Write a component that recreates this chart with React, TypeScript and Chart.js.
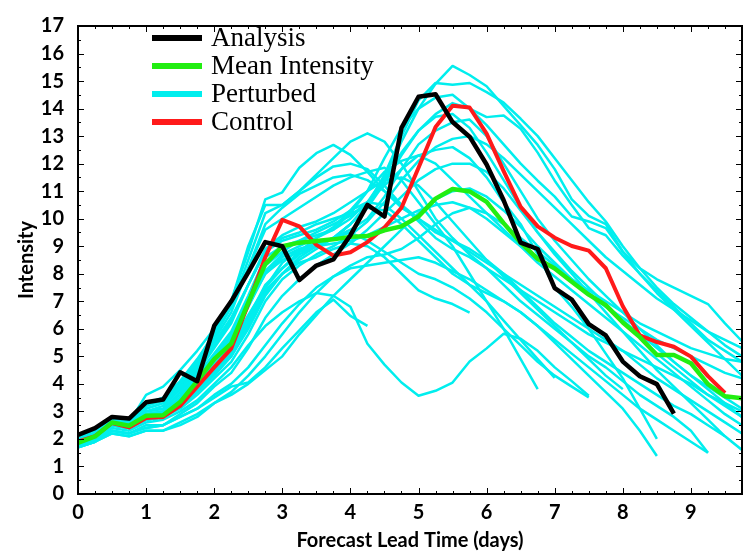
import React, { useEffect, useRef } from "react";
import { Chart, registerables } from "chart.js";

Chart.register(...registerables);

const leadDays = [0, 0.25, 0.5, 0.75, 1, 1.25, 1.5, 1.75, 2, 2.25, 2.5, 2.75, 3, 3.25, 3.5, 3.75, 4, 4.25, 4.5, 4.75, 5, 5.25, 5.5, 5.75, 6, 6.25, 6.5, 6.75, 7, 7.25, 7.5, 7.75, 8, 8.25, 8.5, 8.75, 9, 9.25, 9.5, 9.75];
const xTickValues = [0, 1, 2, 3, 4, 5, 6, 7, 8, 9];
const yTickValues = [0, 1, 2, 3, 4, 5, 6, 7, 8, 9, 10, 11, 12, 13, 14, 15, 16, 17];

const seriesNames = ["Analysis", "Mean Intensity", "Perturbed", "Control"];

const analysis = [2.15, 2.39, 2.8, 2.74, 3.33, 3.43, 4.42, 4.1, 6.11, 7.0, 8.05, 9.15, 9.0, 7.77, 8.3, 8.52, 9.4, 10.5, 10.08, 13.3, 14.43, 14.52, 13.51, 12.98, 11.97, 10.67, 9.13, 8.9, 7.48, 7.06, 6.17, 5.76, 4.81, 4.28, 3.99, 2.92];
const meanIntensity = [1.86, 2.09, 2.6, 2.48, 2.84, 2.86, 3.34, 4.1, 4.9, 5.46, 6.95, 8.35, 9.0, 9.13, 9.19, 9.25, 9.34, 9.37, 9.58, 9.72, 10.08, 10.73, 11.08, 10.99, 10.61, 9.84, 9.13, 8.54, 8.19, 7.71, 7.24, 6.86, 6.23, 5.7, 5.05, 5.05, 4.75, 3.99, 3.55, 3.48];
const control = [1.9, 2.1, 2.58, 2.42, 2.76, 2.8, 3.2, 3.9, 4.6, 5.28, 6.9, 8.6, 9.96, 9.72, 9.05, 8.66, 8.78, 9.15, 9.68, 10.4, 11.85, 13.33, 14.1, 14.04, 13.09, 11.73, 10.43, 9.72, 9.31, 9.01, 8.84, 8.2, 6.82, 5.76, 5.52, 5.35, 4.99, 4.28, 3.67];

const member01 = [1.9, 2.2, 2.7, 2.6, 3.6, 3.9, 4.5, 5.2, 6.0, 7.0, 8.8, 10.7, 10.96, 11.85, 12.38, 12.68, 12.32, 11.7, 11.0, 10.4, 10.0, 9.6, 9.2, 8.8, 8.4, 8.0, 7.6, 7.2, 6.8, 6.4, 6.0, 5.6, 5.2, 4.7, 4.2, 3.8, 3.4, 3.0, 2.6, 2.2];
const member02 = [2.0, 2.3, 2.8, 2.7, 3.2, 3.4, 4.0, 4.8, 5.9, 7.0, 9.0, 10.5, 10.5, 11.0, 11.6, 12.2, 12.8, 13.1, 12.8, 12.0, 11.0, 10.0, 9.3, 8.7, 8.2, 7.6, 7.0, 6.5, 6.0, 5.5, 5.0, 4.6, 4.1, 3.6, 3.2, 2.8, 2.3, 1.5];
const member03 = [1.9, 2.1, 2.6, 2.5, 2.9, 3.0, 3.4, 4.0, 4.7, 5.4, 6.5, 7.5, 8.2, 8.8, 9.3, 9.6, 10.0, 10.6, 11.5, 12.8, 14.0, 14.9, 15.55, 15.22, 14.81, 14.1, 13.39, 12.68, 11.8, 10.7, 10.1, 9.8, 8.8, 8.2, 7.8, 7.5, 7.2, 6.9, 6.2, 5.55];
const member04 = [1.8, 2.0, 2.5, 2.4, 2.7, 2.8, 3.2, 3.8, 4.4, 5.0, 6.0, 7.2, 8.0, 8.5, 8.9, 9.3, 9.8, 10.5, 11.6, 13.0, 14.3, 14.93, 14.87, 14.93, 14.6, 14.22, 13.63, 13.0, 12.2, 11.4, 10.6, 9.9, 9.0, 8.2, 7.5, 6.9, 6.4, 5.9, 5.4, 5.0];
const member05 = [2.0, 2.2, 2.7, 2.5, 2.9, 3.0, 3.5, 4.2, 5.0, 5.8, 7.1, 8.3, 8.8, 9.2, 9.4, 9.6, 10.2, 11.0, 12.2, 13.3, 14.0, 14.4, 14.5, 14.0, 13.69, 13.75, 13.27, 12.4, 11.38, 10.5, 9.66, 9.4, 8.66, 8.0, 7.4, 6.8, 6.2, 5.6, 5.2, 4.8];
const member06 = [1.8, 2.1, 2.6, 2.4, 2.8, 2.9, 3.3, 3.9, 4.6, 5.2, 6.3, 7.5, 8.4, 8.9, 9.1, 9.3, 9.6, 10.0, 10.8, 11.8, 12.7, 13.2, 13.5, 13.6, 13.0, 12.0, 11.0, 10.0, 9.2, 8.5, 7.8, 7.2, 6.6, 6.0, 5.4, 4.8, 4.3, 3.8, 3.3, 2.8];
const member07 = [1.9, 2.2, 2.7, 2.6, 3.0, 3.1, 3.6, 4.3, 5.1, 5.9, 7.2, 8.6, 9.0, 9.2, 9.5, 9.8, 10.1, 10.6, 11.2, 11.8, 12.3, 12.5, 12.6, 12.2, 11.5, 10.6, 9.8, 8.7, 7.5, 6.8, 6.0, 5.1, 4.2, 3.1, 2.0];
const member08 = [2.0, 2.3, 2.8, 2.7, 3.3, 3.5, 4.1, 4.9, 5.8, 6.8, 8.2, 9.6, 10.0, 10.4, 10.8, 11.2, 11.5, 11.7, 11.85, 11.4, 10.6, 9.8, 9.0, 8.0, 7.0, 6.0, 4.9, 3.81];
const member09 = [1.8, 2.0, 2.4, 2.3, 2.6, 2.7, 3.0, 3.4, 4.0, 4.6, 5.4, 6.1, 6.6, 7.0, 7.3, 7.2, 6.8, 5.46, 4.7, 4.05, 3.57, 3.75, 4.05, 4.81, 5.29, 5.82, 5.64, 5.2, 4.6, 4.1, 3.57];
const member10 = [1.7, 1.9, 2.3, 2.2, 2.4, 2.5, 2.8, 3.1, 3.5, 3.9, 4.05, 4.6, 5.3, 5.94, 6.6, 7.06, 6.47, 6.11];
const member11 = [1.7, 1.9, 2.2, 2.1, 2.3, 2.3, 2.6, 2.9, 3.3, 3.6, 4.0, 4.5, 5.0, 5.8, 6.5, 7.2, 7.8, 8.4, 9.0, 9.6, 10.2, 10.7, 11.0, 11.1, 10.8, 10.3, 9.7, 9.0, 8.4, 7.8, 7.3, 6.8, 6.4, 6.0, 5.6, 5.3, 5.0, 4.7, 4.4, 4.2];
const member12 = [2.0, 2.3, 2.7, 2.6, 3.0, 3.1, 3.7, 4.4, 5.3, 6.2, 7.6, 8.8, 9.3, 9.5, 9.8, 10.0, 10.2, 10.4, 10.3, 9.8, 9.2, 8.6, 8.0, 7.6, 7.3, 7.0, 6.6, 6.1, 5.5, 4.9, 4.3, 3.7, 3.1, 2.3, 1.38];
const member13 = [1.9, 2.2, 2.7, 2.6, 3.0, 3.2, 3.8, 4.6, 5.6, 6.6, 8.2, 9.8, 10.4, 10.9, 11.2, 11.5, 11.6, 11.4, 11.0, 10.5, 10.0, 9.5, 9.2, 8.9, 8.5, 8.0, 7.4, 6.8, 6.2, 5.7, 5.2, 4.8, 4.4, 4.0, 3.6, 3.2, 2.9, 2.5, 2.1, 1.6];
const member14 = [1.8, 2.1, 2.6, 2.5, 2.8, 2.9, 3.3, 3.9, 4.7, 5.5, 6.8, 8.1, 8.7, 9.0, 9.3, 9.7, 10.3, 11.0, 11.7, 12.1, 12.3, 12.0, 11.4, 10.8, 10.2, 9.6, 9.0, 8.4, 7.9, 7.4, 6.9, 6.4, 5.9, 5.4, 4.9, 4.4, 3.9, 3.4, 2.9, 2.5];
const member15 = [1.9, 2.1, 2.5, 2.4, 2.7, 2.8, 3.1, 3.6, 4.2, 4.8, 5.8, 7.0, 7.8, 8.3, 8.7, 9.0, 9.4, 9.9, 10.6, 11.4, 12.1, 12.6, 12.9, 13.0, 12.7, 12.2, 11.6, 11.0, 10.4, 9.8, 9.2, 8.6, 8.1, 7.6, 7.1, 6.7, 6.3, 5.9, 5.6, 5.3];
const member16 = [1.8, 2.0, 2.5, 2.4, 2.7, 2.8, 3.2, 3.7, 4.3, 5.0, 6.1, 7.3, 8.0, 8.6, 9.0, 9.3, 9.8, 10.4, 11.3, 12.3, 13.2, 13.8, 14.2, 14.0, 13.4, 12.7, 12.0, 11.38, 10.8, 10.08, 9.9, 9.66, 8.8, 8.0, 7.3, 6.7, 6.1, 5.5, 4.9, 4.3];
const member17 = [2.0, 2.3, 2.8, 2.7, 3.2, 3.4, 4.0, 4.7, 5.5, 6.4, 7.6, 8.8, 9.2, 9.4, 9.6, 9.9, 10.3, 10.6, 10.5, 10.0, 9.4, 8.8, 8.2, 7.6, 7.0, 6.3, 5.6, 4.9, 4.22];
const member18 = [1.9, 2.2, 2.6, 2.5, 2.9, 3.0, 3.5, 4.1, 4.9, 5.7, 6.9, 8.0, 8.5, 8.8, 9.0, 9.3, 9.5, 9.2, 8.8, 8.4, 8.0, 7.8, 7.5, 7.1, 6.6, 6.0, 5.4, 4.8, 4.3, 3.9, 3.51];
const member19 = [1.8, 2.1, 2.5, 2.4, 2.7, 2.8, 3.2, 3.7, 4.4, 5.1, 6.2, 7.4, 8.0, 8.4, 8.6, 8.9, 9.1, 9.0, 8.6, 8.0, 7.4, 7.1, 6.9, 6.59];
const member20 = [1.7, 1.9, 2.3, 2.2, 2.5, 2.5, 2.9, 3.3, 3.9, 4.4, 5.3, 6.4, 7.2, 7.8, 8.3, 8.7, 9.1, 9.6, 10.2, 10.8, 11.4, 11.8, 12.0, 12.0, 11.7, 11.1, 10.3, 9.5, 8.8, 8.1, 7.5, 6.9, 6.3, 5.7, 5.1, 4.6, 4.1, 3.6, 3.3, 3.0];
const member21 = [2.0, 2.3, 2.8, 2.7, 3.1, 3.3, 3.8, 4.5, 5.4, 6.3, 7.6, 8.9, 9.4, 9.7, 9.9, 10.2, 10.6, 11.0, 11.4, 11.5, 11.2, 10.6, 9.9, 9.2, 8.5, 7.9, 7.3, 6.7, 6.1, 5.5, 4.9, 4.3, 3.81];
const member22 = [1.8, 2.0, 2.5, 2.4, 2.7, 2.8, 3.2, 3.8, 4.5, 5.2, 6.4, 7.6, 8.2, 8.7, 9.0, 9.3, 9.8, 10.5, 11.4, 12.4, 13.2, 13.7, 13.8, 13.3, 12.4, 11.4, 10.4, 9.5, 8.7, 8.0, 7.3, 6.6, 5.9, 5.2, 4.5, 3.9, 3.3, 2.7, 2.09];
const member23 = [1.9, 2.2, 2.7, 2.6, 3.1, 3.3, 3.9, 4.7, 5.7, 6.8, 8.5, 10.2, 10.5, 11.0, 11.5, 11.9, 12.0, 11.8, 11.2, 10.5, 9.9, 9.3, 8.9, 8.6, 8.2, 7.8, 7.4, 7.0, 6.6, 6.2, 5.8, 5.5, 5.2, 4.9, 4.6, 4.3, 4.0, 3.6, 3.2, 2.8];
const member24 = [1.7, 1.9, 2.2, 2.1, 2.3, 2.3, 2.5, 2.8, 3.3, 3.7, 4.3, 5.0, 5.8, 6.6, 7.3, 7.9, 8.3, 8.6, 8.7, 8.9, 9.3, 9.8, 10.2, 10.4, 10.2, 9.8, 9.3, 8.8, 8.3, 7.8, 7.3, 6.8, 6.3, 5.8, 5.3, 4.8, 4.3, 3.9, 3.5, 3.1];
const member25 = [1.9, 2.1, 2.6, 2.5, 2.8, 2.9, 3.4, 4.0, 4.8, 5.6, 6.8, 8.0, 8.6, 8.9, 9.0, 9.1, 9.2, 9.4, 9.7, 10.0, 10.3, 10.5, 10.6, 10.4, 10.0, 9.5, 9.0, 8.6, 8.2, 7.8, 7.4, 7.0, 6.6, 6.2, 5.9, 5.6, 5.3, 5.1, 4.9, 4.8];
const member26 = [1.8, 2.0, 2.3, 2.2, 2.4, 2.5, 2.8, 3.1, 3.6, 4.0, 4.6, 5.4, 6.2, 6.9, 7.5, 7.9, 8.2, 8.3, 8.4, 8.5, 8.6, 8.4, 8.1, 7.8, 7.4, 7.0, 6.6, 6.1, 5.6, 5.1, 4.6, 4.1, 3.6, 3.1, 2.7, 2.3, 1.9, 1.5];

const perturbed = [member01, member02, member03, member04, member05, member06, member07, member08, member09, member10, member11, member12, member13, member14, member15, member16, member17, member18, member19, member20, member21, member22, member23, member24, member25, member26];

const COLORS = { analysis: "#000000", mean: "#22ee11", perturbed: "#00eeee", control: "#ff1a1a" };
const legendColors = [COLORS.analysis, COLORS.mean, COLORS.perturbed, COLORS.control];

function toPoints(vals: number[]) {
  return leadDays.map((d, i) => ({ x: d, y: i < vals.length ? vals[i] : null }));
}

const framePlugin = {
  id: "frameTicks",
  afterDatasetsDraw(chart: any) {
    const { ctx, chartArea: a, scales } = chart;
    const x = scales.x;
    const y = scales.y;
    ctx.save();
    ctx.strokeStyle = "#000";
    ctx.lineWidth = 1;
    ctx.beginPath();
    for (let i = 0; i <= 39; i++) {
      const v = i * 0.25;
      const px = Math.round(x.getPixelForValue(v)) + 0.5;
      const len = i % 4 === 0 ? 6 : 3;
      ctx.moveTo(px, a.bottom);
      ctx.lineTo(px, a.bottom - len);
      ctx.moveTo(px, a.top);
      ctx.lineTo(px, a.top + len);
    }
    for (let i = 0; i <= 34; i++) {
      const v = i * 0.5;
      const py = Math.round(y.getPixelForValue(v)) + 0.5;
      const len = i % 2 === 0 ? 6 : 3;
      ctx.moveTo(a.left, py);
      ctx.lineTo(a.left + len, py);
      ctx.moveTo(a.right, py);
      ctx.lineTo(a.right - len, py);
    }
    ctx.stroke();
    ctx.lineWidth = 2;
    ctx.strokeRect(a.left, a.top, a.right - a.left, a.bottom - a.top);

    // legend
    ctx.font = '27px "Liberation Serif", "DejaVu Serif", serif';
    ctx.textBaseline = "alphabetic";
    ctx.textAlign = "left";
    seriesNames.forEach((name, i) => {
      const cy = 38 + i * 28;
      ctx.strokeStyle = legendColors[i];
      ctx.lineWidth = 6;
      ctx.lineCap = "butt";
      ctx.beginPath();
      ctx.moveTo(152, cy);
      ctx.lineTo(202, cy);
      ctx.stroke();
      ctx.fillStyle = "#000";
      ctx.fillText(name, 211, cy + 8);
    });
    ctx.restore();
  },
};

export default function App() {
  const ref = useRef<HTMLCanvasElement | null>(null);
  useEffect(() => {
    if (!ref.current) return;
    const datasets: any[] = [
      { label: seriesNames[0], data: toPoints(analysis), borderColor: COLORS.analysis, borderWidth: 4.5 },
      { label: seriesNames[1], data: toPoints(meanIntensity), borderColor: COLORS.mean, borderWidth: 4.5 },
      { label: seriesNames[3], data: toPoints(control), borderColor: COLORS.control, borderWidth: 4 },
      ...perturbed.map((m, i) => ({ label: seriesNames[2] + " " + (i + 1), data: toPoints(m), borderColor: COLORS.perturbed, borderWidth: 2.5 })),
    ];
    const fam = "Lato, 'Open Sans', sans-serif";
    const tickFont = { family: fam, size: 20, weight: "bold" as const };
    const chart = new Chart(ref.current, {
      type: "line",
      data: { datasets },
      plugins: [framePlugin],
      options: {
        animation: false,
        responsive: true,
        maintainAspectRatio: false,
        layout: { padding: { top: 15, right: 5, left: 0, bottom: 0 } },
        plugins: { legend: { display: false }, tooltip: { enabled: false } },
        elements: { point: { radius: 0 }, line: { tension: 0, borderJoinStyle: "round", borderCapStyle: "butt" } },
        scales: {
          x: {
            type: "linear",
            min: 0,
            max: 9.75,
            afterBuildTicks: (s: any) => { s.ticks = xTickValues.map((v) => ({ value: v })); },
            afterFit: (s: any) => { s.height = 60; },
            grid: { display: false, drawTicks: false },
            border: { display: false },
            ticks: { font: tickFont, color: "#000", padding: 7, maxRotation: 0, autoSkip: false },
            title: { display: true, text: "Forecast Lead Time (days)", color: "#000", font: { family: fam, size: 20, weight: "bold" }, padding: { top: 0, bottom: 1 } },
          },
          y: {
            type: "linear",
            min: 0,
            max: 17,
            afterBuildTicks: (s: any) => { s.ticks = yTickValues.map((v) => ({ value: v })); },
            afterFit: (s: any) => { s.width = 78; },
            grid: { display: false, drawTicks: false },
            border: { display: false },
            ticks: { font: tickFont, color: "#000", padding: 14, autoSkip: false },
            title: { display: true, text: "Intensity", color: "#000", font: { family: fam, size: 20, weight: "bold" }, padding: { top: 15, bottom: 0 } },
          },
        },
      },
    });
    return () => chart.destroy();
  }, []);
  return (
    <div style={{ position: "fixed", left: 0, top: 0, width: 747, height: 554, background: "#fff" }}>
      <canvas ref={ref} />
    </div>
  );
}
